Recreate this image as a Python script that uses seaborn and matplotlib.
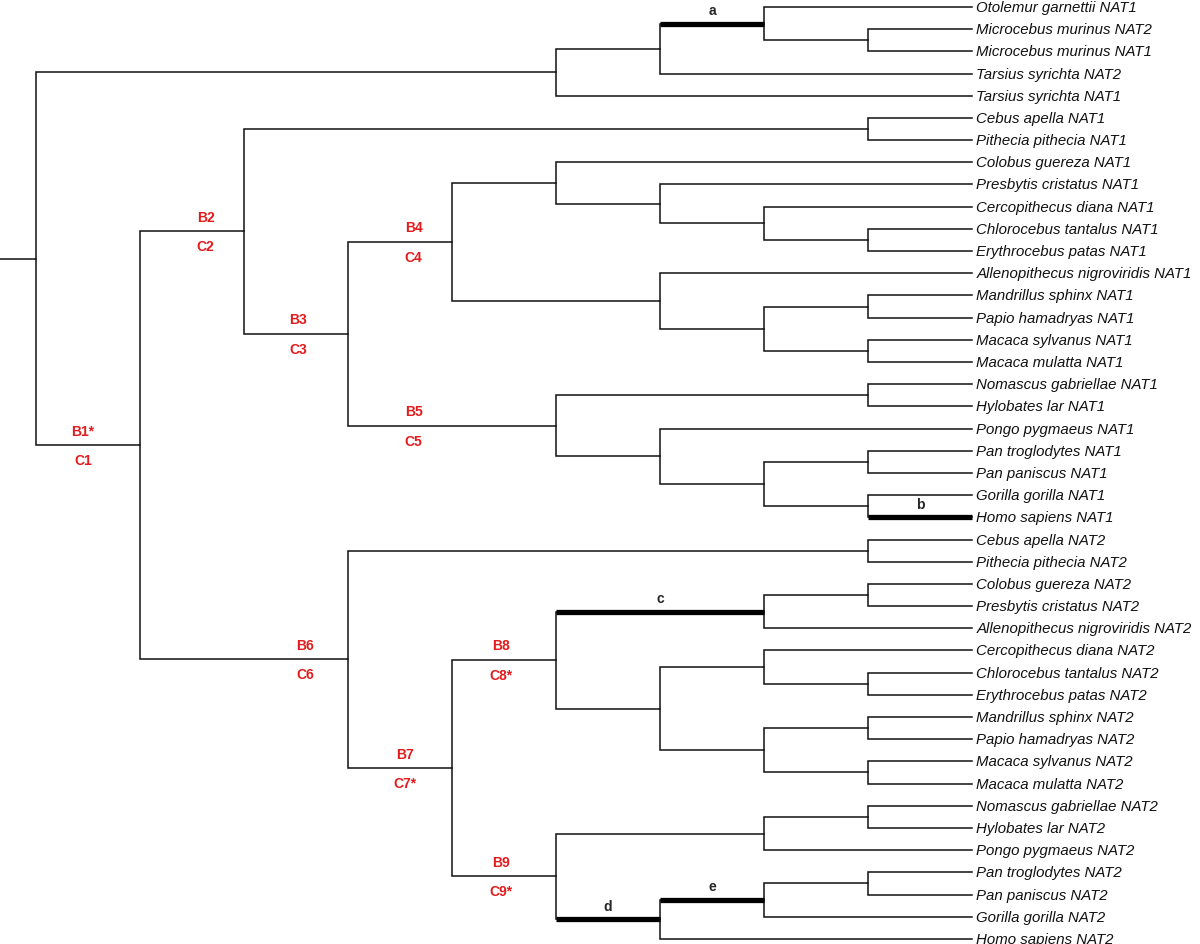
import matplotlib
matplotlib.use("Agg")
import matplotlib.pyplot as plt
import seaborn as sns
import pandas as pd

# Leaf names, top to bottom
leaves = [
    "Otolemur garnettii NAT1", "Microcebus murinus NAT2", "Microcebus murinus NAT1",
    "Tarsius syrichta NAT2", "Tarsius syrichta NAT1", "Cebus apella NAT1",
    "Pithecia pithecia NAT1", "Colobus guereza NAT1", "Presbytis cristatus NAT1",
    "Cercopithecus diana NAT1", "Chlorocebus tantalus NAT1", "Erythrocebus patas NAT1",
    "Allenopithecus nigroviridis NAT1", "Mandrillus sphinx NAT1", "Papio hamadryas NAT1",
    "Macaca sylvanus NAT1", "Macaca mulatta NAT1", "Nomascus gabriellae NAT1",
    "Hylobates lar NAT1", "Pongo pygmaeus NAT1", "Pan troglodytes NAT1",
    "Pan paniscus NAT1", "Gorilla gorilla NAT1", "Homo sapiens NAT1",
    "Cebus apella NAT2", "Pithecia pithecia NAT2", "Colobus guereza NAT2",
    "Presbytis cristatus NAT2", "Allenopithecus nigroviridis NAT2", "Cercopithecus diana NAT2",
    "Chlorocebus tantalus NAT2", "Erythrocebus patas NAT2", "Mandrillus sphinx NAT2",
    "Papio hamadryas NAT2", "Macaca sylvanus NAT2", "Macaca mulatta NAT2",
    "Nomascus gabriellae NAT2", "Hylobates lar NAT2", "Pongo pygmaeus NAT2",
    "Pan troglodytes NAT2", "Pan paniscus NAT2", "Gorilla gorilla NAT2",
    "Homo sapiens NAT2",
]
LEAF_DEPTH = 9

# internal nodes: name -> (depth, [child, child]); ints are leaf indices
nodes = {
    "root": (0, ["A", "B1"]),
    "A": (5, ["A1", 4]), "A1": (6, ["A2", 3]), "A2": (7, [0, "A3"]), "A3": (8, [1, 2]),
    "B1": (1, ["B2", "B6"]),
    "B2": (2, ["P1", "B3"]), "P1": (8, [5, 6]),
    "B3": (3, ["B4", "B5"]),
    "B4": (4, ["C", "D"]),
    "C": (5, [7, "C1"]), "C1": (6, [8, "C2"]), "C2": (7, [9, "C3"]), "C3": (8, [10, 11]),
    "D": (6, [12, "D1"]), "D1": (7, ["D2", "D3"]), "D2": (8, [13, 14]), "D3": (8, [15, 16]),
    "B5": (5, ["N1", "H"]), "N1": (8, [17, 18]),
    "H": (6, [19, "H1"]), "H1": (7, ["H2", "H3"]), "H2": (8, [20, 21]), "H3": (8, [22, 23]),
    "B6": (3, ["P2", "B7"]), "P2": (8, [24, 25]),
    "B7": (4, ["B8", "B9"]),
    "B8": (5, ["E", "F"]), "E": (7, ["E1", 28]), "E1": (8, [26, 27]),
    "F": (6, ["F1", "F3"]), "F1": (7, [29, "F2"]), "F2": (8, [30, 31]),
    "F3": (7, ["F4", "F5"]), "F4": (8, [32, 33]), "F5": (8, [34, 35]),
    "B9": (5, ["G", "K"]), "G": (7, ["G1", 38]), "G1": (8, [36, 37]),
    "K": (6, ["K1", 42]), "K1": (7, ["K2", 41]), "K2": (8, [39, 40]),
}

# highlighted branches (branch leading into the node / leaf) and their letters
bold_branches = ["A2", 23, "E", "K", "K1"]
bold_letters = ["a", "b", "c", "d", "e"]

# red branch labels: node, upper text, lower text, x position (depth units)
red_nodes = ["B1", "B2", "B3", "B4", "B5", "B6", "B7", "B8", "B9"]
red_upper = ["B1*", "B2", "B3", "B4", "B5", "B6", "B7", "B8", "B9"]
red_lower = ["C1", "C2", "C3", "C4", "C5", "C6", "C7*", "C8*", "C9*"]
red_xpos = [0.45, 1.63, 2.52, 3.63, 3.63, 2.59, 3.55, 4.47, 4.47]

# ---- layout of the cladogram ----
pos = {}


def place(n):
    if isinstance(n, int):
        pos[n] = (LEAF_DEPTH, n)
        return pos[n]
    depth, kids = nodes[n]
    ys = [place(k)[1] for k in kids]
    pos[n] = (depth, (min(ys) + max(ys)) / 2)
    return pos[n]


place("root")
parent = {k: n for n, (_, kids) in nodes.items() for k in kids}

rows = []
for n, (depth, kids) in nodes.items():
    x0, _ = pos[n]
    c1, c2 = pos[kids[0]], pos[kids[1]]
    pts = [(c1[0], c1[1]), (x0, c1[1]), (x0, c2[1]), (c2[0], c2[1])]
    for i, (x, y) in enumerate(pts):
        rows.append({"seg": n, "order": i, "x": x, "y": y})
# root stub
rx, ry = pos["root"]
rows.append({"seg": "stub", "order": 0, "x": -0.35, "y": ry})
rows.append({"seg": "stub", "order": 1, "x": rx, "y": ry})
edges = pd.DataFrame(rows)

brows = []
for k in bold_branches:
    px = pos[parent[k]][0]
    cx, cy = pos[k]
    brows.append({"seg": str(k), "x": px, "y": cy})
    brows.append({"seg": str(k), "x": cx, "y": cy})
bold = pd.DataFrame(brows)

# ---- drawing ----
sns.set_style("white")
fig = plt.figure(figsize=(12, 9.45), dpi=100)
ax = fig.add_axes([0, 0, 1, 1])

sns.lineplot(data=edges, x="x", y="y", units="seg", estimator=None, sort=False,
             color="#111111", lw=1.1, solid_joinstyle="miter", solid_capstyle="projecting",
             ax=ax, legend=False)
sns.lineplot(data=bold, x="x", y="y", units="seg", estimator=None, sort=False,
             color="black", lw=3.8, solid_capstyle="butt", ax=ax, legend=False)

for i, name in enumerate(leaves):
    ax.text(LEAF_DEPTH + 0.04, i, name, ha="left", va="center", fontsize=10.8,
            style="italic", family="Liberation Sans", color="#111111")

for k, letter in zip(bold_branches, bold_letters):
    px = pos[parent[k]][0]
    cx, cy = pos[k]
    ax.text((px + cx) / 2, cy - 0.3, letter, ha="center", va="bottom", fontsize=10,
            fontweight="bold", family="Liberation Sans")

red = "#e41a1c"
for n, up, lo, xp in zip(red_nodes, red_upper, red_lower, red_xpos):
    y = pos[n][1]
    ax.text(xp, y - 0.35, up, ha="center", va="bottom", color=red, fontsize=10,
            fontweight="bold", family="Liberation Sans")
    ax.text(xp, y + 0.35, lo, ha="center", va="top", color=red, fontsize=10,
            fontweight="bold", family="Liberation Sans")

ax.set_xlim(-0.346, 11.19)
ax.set_ylim(42.23, -0.36)
ax.axis("off")

fig.savefig("out.png", dpi=100)
